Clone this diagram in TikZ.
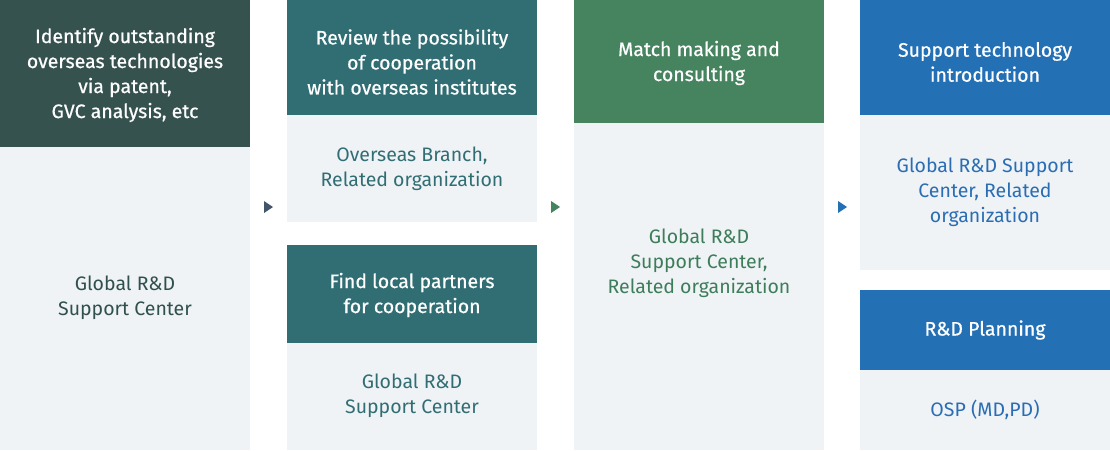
\documentclass[tikz,border=0pt]{standalone}
\usepackage{fontspec}
\setmainfont{Fira Sans}
\newfontfamily\headfont{Fira Sans}[FakeBold=0.6]
\definecolor{bodybg}{HTML}{EFF3F6}
\definecolor{hdA}{HTML}{36524F}
\definecolor{txA}{HTML}{30504E}
\definecolor{hdB}{HTML}{316E74}
\definecolor{txB}{HTML}{316E74}
\definecolor{hdC}{HTML}{46845F}
\definecolor{txC}{HTML}{3E7D5A}
\definecolor{hdD}{HTML}{2470B5}
\definecolor{txD}{HTML}{2A6DB3}
\definecolor{arA}{HTML}{44546A}
\tikzset{
  box/.style={rectangle, inner sep=0pt, outer sep=0pt, anchor=north west, draw=none},
  lbl/.style={align=center, inner sep=0pt, font=\fontsize{19.5}{25}\selectfont},
  hlbl/.style={lbl, text=white, font=\headfont\fontsize{19.5}{25}\selectfont},
}
\begin{document}
\begin{tikzpicture}[x=1pt,y=-1pt]
\useasboundingbox (0,0) rectangle (1110,450);
% column 1
\node[box, fill=hdA, minimum width=250pt, minimum height=147pt] (h1) at (0,0) {};
\node[box, fill=bodybg, minimum width=250pt, minimum height=303pt] (b1) at (0,147) {};
\node[hlbl] (h1t) at (125,75) {Identify outstanding\\overseas technologies\\via patent,\\GVC analysis, etc};
\node[lbl, text=txA] (b1t) at (125,298) {Global R\&D\\Support Center};
% column 2
\node[box, fill=hdB, minimum width=250pt, minimum height=115pt] (h2) at (287,0) {};
\node[box, fill=bodybg, minimum width=250pt, minimum height=107pt] (b2) at (287,115) {};
\node[box, fill=hdB, minimum width=250pt, minimum height=98pt] (h2b) at (287,245) {};
\node[box, fill=bodybg, minimum width=250pt, minimum height=107pt] (b2b) at (287,343) {};
\node[hlbl] (h2t) at (412,62) {Review the possibility\\of cooperation\\with overseas institutes};
\node[lbl, text=txB] (b2t) at (412,169) {Overseas Branch,\\Related organization};
\node[hlbl] (h2bt) at (412,295) {Find local partners\\for cooperation};
\node[lbl, text=txB] (b2bt) at (412,396) {Global R\&D\\Support Center};
% column 3
\node[box, fill=hdC, minimum width=250pt, minimum height=123pt] (h3) at (574,0) {};
\node[box, fill=bodybg, minimum width=250pt, minimum height=327pt] (b3) at (574,123) {};
\node[hlbl] (h3t) at (699,63) {Match making and\\consulting};
\node[lbl, text=txC] (b3t) at (699,263) {Global R\&D\\Support Center,\\Related organization};
% column 4
\node[box, fill=hdD, minimum width=250pt, minimum height=115pt] (h4) at (860,0) {};
\node[box, fill=bodybg, minimum width=250pt, minimum height=155pt] (b4) at (860,115) {};
\node[box, fill=hdD, minimum width=250pt, minimum height=80pt] (h4b) at (860,290) {};
\node[box, fill=bodybg, minimum width=250pt, minimum height=80pt] (b4b) at (860,370) {};
\node[hlbl] (h4t) at (985,62) {Support technology\\introduction};
\node[lbl, text=txD] (b4t) at (985,192) {Global R\&D Support\\Center, Related\\organization};
\node[hlbl] (h4bt) at (985,330) {R\&D Planning};
\node[lbl, text=txD] (b4bt) at (985,410) {OSP (MD,PD)};
% arrow markers
\fill[arA] (264,201) -- (273,207) -- (264,213) -- cycle;
\fill[hdC] (551,201) -- (560,207) -- (551,213) -- cycle;
\fill[hdD] (838,201) -- (847,207) -- (838,213) -- cycle;
\end{tikzpicture}
\end{document}
